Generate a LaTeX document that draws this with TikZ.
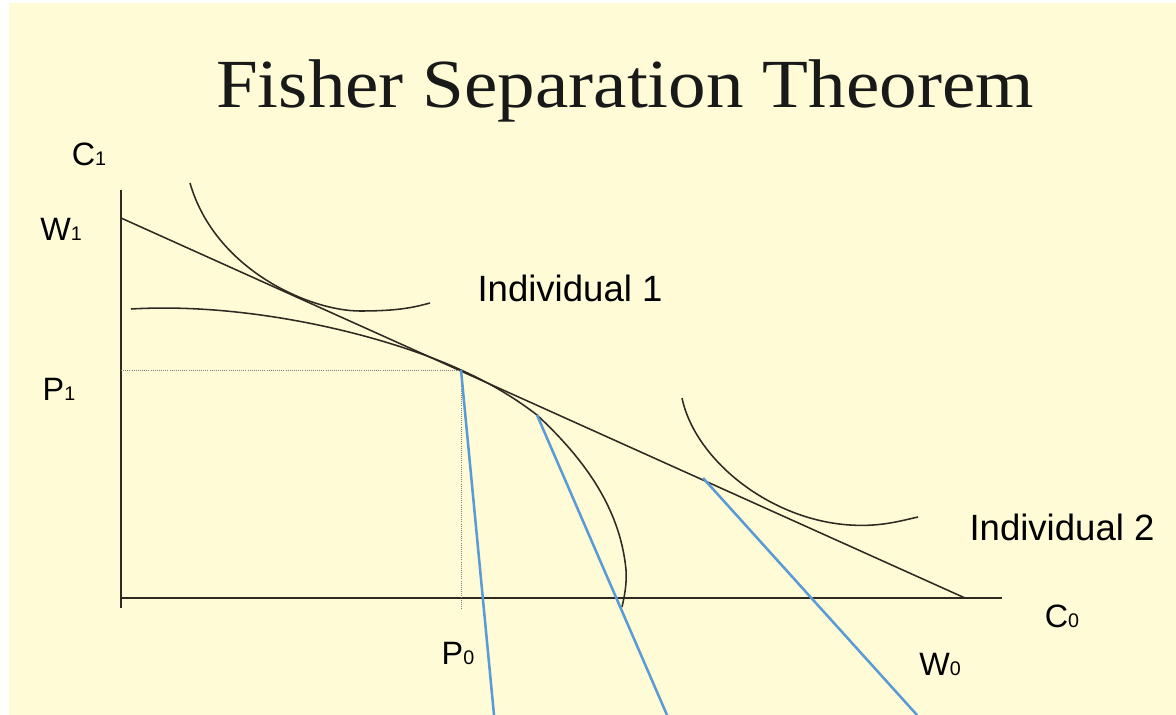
\documentclass[tikz,border=0pt]{standalone}
\usepackage{fontspec}
\setmainfont{Liberation Serif}
\setsansfont{Liberation Sans}
\newfontfamily\titlefont[FakeStretch=1.09]{Liberation Serif}
\definecolor{SlideCream}{HTML}{FFFBD7}
\definecolor{CurveGray}{HTML}{2E2A22}
\definecolor{LinkBlue}{HTML}{5B9BD5}
\newcommand{\lowdigit}[1]{{\fontsize{14}{14}\selectfont #1}}

\begin{document}
\begin{tikzpicture}[x=0.025cm, y=-0.025cm,
    lbl/.style={font=\sffamily\fontsize{23}{23}\selectfont, inner sep=0pt},
    indiv/.style={font=\sffamily\fontsize{26}{26}\selectfont, inner sep=0pt},
    axis/.style={CurveGray, line width=1.3pt},
    curve/.style={CurveGray, line width=1.1pt},
    guide/.style={gray, densely dotted, line width=0.5pt},
    link/.style={LinkBlue, line width=1.8pt}]
  % slide background
  \fill[white] (0,0) rectangle (1176,715);
  \fill[SlideCream] (9,3) rectangle (1176,715);
  \useasboundingbox (0,0) rectangle (1176,715);

  \node[font=\titlefont\fontsize{49}{49}\selectfont, text=black!90, anchor=base, inner sep=0pt] (title) at (625,108) {Fisher Separation Theorem};

  % axes and market line
  \coordinate (ytop) at (121,190);
  \coordinate (ybot) at (121,608);
  \coordinate (O) at (121,598);
  \coordinate (xend) at (1002,598);
  \coordinate (W1pt) at (121,218);
  \coordinate (W0pt) at (965,598);
  \coordinate (P) at (461,370);
  \coordinate (Q) at (537,415);
  \coordinate (T2) at (703,478);
  \draw[axis] (ytop) -- (ybot);
  \draw[axis] (O) -- (xend);
  \draw[curve] (W1pt) -- (W0pt);
  \draw[guide] (121,370) -- (P) -- (461,610);

  % production opportunities
  \draw[curve] (131,309) .. controls (250,302) and (385,335) .. (P)
    .. controls (490,383) and (515,398) .. (Q)
    .. controls (580,455) and (620,505) .. (626,570)
    .. controls (627,585) and (624,598) .. (622,607);

  % indifference curves
  \draw[curve] (190,183) .. controls (215,270) and (310,311) .. (360,311)
    .. controls (400,311) and (415,307) .. (430,303);
  \draw[curve] (682,398) .. controls (695,460) and (770,520) .. (850,525)
    .. controls (880,527) and (900,521) .. (918,517);

  % labels
  \node[lbl] (c1) at (89,154) {C\lowdigit{1}};
  \node[lbl] (w1) at (61,229) {W\lowdigit{1}};
  \node[lbl] (p1) at (59,389) {P\lowdigit{1}};
  \node[lbl] (p0) at (458,653) {P\lowdigit{0}};
  \node[lbl] (w0) at (940,664) {W\lowdigit{0}};
  \node[lbl] (c0) at (1062,616) {C\lowdigit{0}};
  \node[indiv] (ind1) at (570,288) {Individual 1};
  \node[indiv] (ind2) at (1062,527) {Individual 2};

  % blue pointers
  \coordinate (b1) at (494,715);
  \coordinate (b2) at (667,715);
  \coordinate (b3) at (917,715);
  \draw[link] (P) -- (b1);
  \draw[link] (Q) -- (b2);
  \draw[link] (T2) -- (b3);
\end{tikzpicture}
\end{document}
